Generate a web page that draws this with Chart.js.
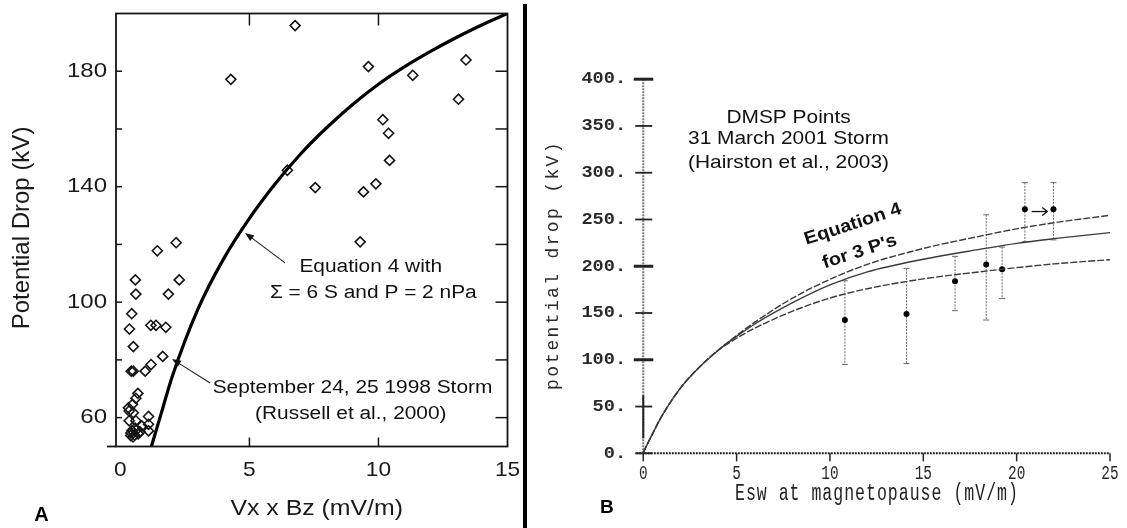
<!DOCTYPE html>
<html>
<head>
<meta charset="utf-8">
<script src="https://cdn.jsdelivr.net/npm/chart.js@4.4.1/dist/chart.umd.min.js"></script>
<style>
  html, body { margin: 0; padding: 0; background: #fff; }
  #wrap { position: relative; width: 1127px; height: 528px; overflow: hidden; }
  canvas { position: absolute; top: 0; }
  #chartA { left: 0; }
  #chartB { left: 527px; }
  #divider { position: absolute; left: 523px; top: 4px; width: 4px; height: 524px; background: #000; }
</style>
</head>
<body>
<div id="wrap">
  <canvas id="chartA" width="523" height="528"></canvas>
  <div id="divider"></div>
  <canvas id="chartB" width="600" height="528"></canvas>
</div>
<script>
// ---- Panel A: Russell et al. 2000 storm points + Equation 4 curve ----
const curveAx = [1.2, 1.6, 2, 3, 4, 5, 6, 7, 8, 9, 10, 11, 12, 13, 14, 15];
const curveAy = [50, 62, 74, 97.5, 115, 129, 141, 151.5, 160.5, 168.5, 175.5, 181.5, 186.8, 191.6, 196, 200];

const stormAx = [6.77, 4.28, 9.61, 11.33, 13.39, 13.10, 10.17, 10.39, 10.43, 9.90, 9.42, 7.55, 6.47, 9.29,
  2.16, 1.43, 2.28, 0.58, 0.60, 1.86, 0.44, 0.35, 1.18, 1.38,
  1.76, 0.50, 1.64, 1.19, 0.96, 0.42, 0.50, 0.68, 0.60, 0.47,
  0.34, 0.31, 0.50, 1.09, 1.09, 1.09, 0.83, 0.57, 0.41, 0.69,
  0.49, 0.34, 0.60, 0.76, 0.45, 0.55, 0.62, 0.40];
const stormAy = [195.8, 177.2, 181.6, 178.6, 183.9, 170.3, 163.2, 158.5, 149.1, 141.0, 138.2, 139.7, 145.7, 120.9,
  120.6, 117.8, 107.7, 107.7, 102.8, 102.8, 96.0, 90.7, 92.0, 92.0,
  91.3, 84.6, 81.2, 78.4, 76.1, 76.1, 76.1, 68.4, 66.7, 64.6,
  62.3, 63.4, 61.7, 60.4, 57.7, 55.4, 57.1, 56.4, 54.7, 54.4,
  53.3, 58.9, 58.9, 55.1, 55.5, 54.0, 55.8, 53.8];

const labelsAx = [0, 5, 10, 15];
const labelsAy = [60, 100, 140, 180];
const marksAx = [5, 10];
const marksAy = [60, 80, 100, 120, 140, 160, 180];

// ---- Panel B: DMSP points (Hairston et al. 2003) + Equation 4 for 3 P's ----
const eswX = [0, 0.5, 1, 2, 3, 4, 5, 6, 8, 10, 12, 15, 18, 20, 22, 25];
const dropUpper = [1, 21, 40, 70, 92, 110, 126, 140.5, 166, 186, 202, 219, 232, 240, 246.5, 254.5];
const dropMid = [1, 21, 40, 70, 92, 110, 125, 138.5, 161, 180, 194, 207.5, 218, 224.5, 229.5, 236];
const dropLower = [1, 21, 40, 70, 92, 110, 123, 134, 152, 166, 176, 186.5, 194, 198.5, 202.5, 207];

const dmspX = [10.8, 14.1, 16.7, 18.37, 19.22, 20.44, 21.97];
const dmspY = [142.5, 149, 184, 202, 196.7, 261, 261];
const dmspLow = [95, 96, 152.5, 142.5, 165.5, 226.3, 228.2];
const dmspHigh = [184.5, 197.7, 210.6, 255, 220.5, 289.4, 289.4];

const ticksBx = [0, 5, 10, 15, 20, 25];
const ticksBy = [0, 50, 100, 150, 200, 250, 300, 350, 400];
const majorBy = [100, 200, 400];

const SANS = '"Liberation Sans", Arial, sans-serif';
const MONO = '"Liberation Mono", "DejaVu Sans Mono", monospace';

function line(ctx, x1, y1, x2, y2) {
    ctx.beginPath();
    ctx.moveTo(x1, y1);
    ctx.lineTo(x2, y2);
    ctx.stroke();
}

function txt(ctx, s, x, y, o) {
    ctx.save();
    ctx.translate(x, y);
    if (o.rot) ctx.rotate(o.rot);
    ctx.scale(o.sx || 1, 1);
    ctx.font = o.font;
    ctx.fillStyle = o.color || '#111';
    ctx.textAlign = o.align || 'center';
    ctx.textBaseline = o.base || 'middle';
    ctx.fillText(s, 0, 0);
    ctx.restore();
}

// monospace text with wide letter spacing, char by char
function spaced(ctx, s, cx, cy, step, o) {
    ctx.save();
    ctx.translate(cx, cy);
    if (o.rot) ctx.rotate(o.rot);
    ctx.font = o.font;
    ctx.fillStyle = o.color || '#222';
    ctx.textAlign = 'center';
    ctx.textBaseline = 'middle';
    const n = s.length;
    for (let i = 0; i < n; i++) {
        ctx.save();
        ctx.translate((i - (n - 1) / 2) * step, 0);
        ctx.scale(o.sx || 1, 1);
        ctx.fillText(s[i], 0, 0);
        ctx.restore();
    }
    ctx.restore();
}

function arrowFilled(ctx, x1, y1, x2, y2, len, half) {
    const ang = Math.atan2(y2 - y1, x2 - x1);
    line(ctx, x1, y1, x2 - Math.cos(ang) * len * 0.7, y2 - Math.sin(ang) * len * 0.7);
    ctx.beginPath();
    ctx.moveTo(x2, y2);
    ctx.lineTo(x2 - Math.cos(ang) * len + Math.sin(ang) * half, y2 - Math.sin(ang) * len - Math.cos(ang) * half);
    ctx.lineTo(x2 - Math.cos(ang) * len - Math.sin(ang) * half, y2 - Math.sin(ang) * len + Math.cos(ang) * half);
    ctx.closePath();
    ctx.fill();
}

function baseOptions(pad, xr, yr) {
    return {
        responsive: false,
        animation: false,
        devicePixelRatio: 1,
        events: [],
        layout: { padding: pad },
        plugins: { legend: { display: false }, tooltip: { enabled: false } },
        scales: {
            x: { type: 'linear', min: xr[0], max: xr[1], display: false },
            y: { type: 'linear', min: yr[0], max: yr[1], display: false }
        }
    };
}

// Panel A frame, inward ticks, labels and notes
const panelA = {
    id: 'panelA',
    afterDraw(chart) {
        const { ctx, chartArea: a, scales: { x, y } } = chart;
        ctx.save();
        ctx.strokeStyle = '#151515';
        ctx.lineWidth = 1.8;
        ctx.strokeRect(a.left, a.top, a.right - a.left, a.bottom - a.top);
        line(ctx, a.left - 9, a.bottom, a.left, a.bottom);
        ctx.lineWidth = 1.5;
        marksAy.forEach(v => {
            const py = y.getPixelForValue(v);
            line(ctx, a.left, py, a.left + 6, py);
            line(ctx, a.right - 12, py, a.right, py);
        });
        marksAx.forEach(v => {
            const px = x.getPixelForValue(v);
            line(ctx, px, a.top, px, a.top + 12);
            line(ctx, px, a.bottom - 9, px, a.bottom);
        });

        labelsAy.forEach(v => txt(ctx, String(v), 107, y.getPixelForValue(v),
            { font: '20px ' + SANS, sx: 1.2, align: 'right', color: '#1a1a1a' }));
        labelsAx.forEach(v => txt(ctx, String(v), x.getPixelForValue(v), 470,
            { font: '21px ' + SANS, sx: 1.08, color: '#1a1a1a' }));
        txt(ctx, 'Vx x Bz (mV/m)', 316.7, 509, { font: '22px ' + SANS, sx: 1.13, color: '#1a1a1a' });
        txt(ctx, 'Potential Drop (kV)', 22.5, 228, { font: '24px ' + SANS, rot: -Math.PI / 2, color: '#1a1a1a' });
        txt(ctx, 'A', 41.5, 515, { font: 'bold 20px ' + SANS, color: '#000' });

        const note = { font: '18px ' + SANS, sx: 1.16, base: 'alphabetic', color: '#111' };
        txt(ctx, 'Equation 4 with', 370.8, 271.7, note);
        txt(ctx, '\u03A3 = 6 S and P = 2 nPa', 373.3, 298.3, note);
        txt(ctx, 'September 24, 25 1998 Storm', 352.5, 393.3, note);
        txt(ctx, '(Russell et al., 2000)', 350.8, 419, note);

        ctx.strokeStyle = '#222';
        ctx.fillStyle = '#111';
        ctx.lineWidth = 1.1;
        arrowFilled(ctx, x.getPixelForValue(6.38), y.getPixelForValue(113.6),
            x.getPixelForValue(4.83), y.getPixelForValue(124.0), 9, 3.5);
        arrowFilled(ctx, x.getPixelForValue(3.48), y.getPixelForValue(72.0),
            x.getPixelForValue(2.0), y.getPixelForValue(80.3), 9, 3.5);
        ctx.restore();
    }
};

// Panel B axes, error bars, labels and notes
const panelB = {
    id: 'panelB',
    beforeDatasetsDraw(chart) {
        const { ctx, scales: { x, y } } = chart;
        const x0 = x.getPixelForValue(0);
        const y0 = y.getPixelForValue(0);
        ctx.save();
        // y axis: dotted grey
        ctx.strokeStyle = '#7a7a7a';
        ctx.lineWidth = 2;
        ctx.setLineDash([2, 1]);
        line(ctx, x0, y0, x0, y.getPixelForValue(400));
        // x axis: dark dotted
        ctx.strokeStyle = '#222';
        line(ctx, x.getPixelForValue(-0.4), y0, x.getPixelForValue(25), y0);
        ctx.setLineDash([]);
        ctx.lineWidth = 2;
        line(ctx, x0, y.getPixelForValue(16), x0, y.getPixelForValue(62));
        // y ticks crossing the axis
        ticksBy.forEach(v => {
            const py = y.getPixelForValue(v);
            const major = majorBy.includes(v);
            ctx.lineWidth = major ? 3 : 1.8;
            line(ctx, x0 - (major ? 9.5 : 8), py, x0 + (major ? 10 : 9), py);
        });
        ctx.lineWidth = 1.5;
        ticksBx.forEach(v => {
            const px = x.getPixelForValue(v);
            line(ctx, px, y0, px, y0 + 8);
        });
        // error bars
        ctx.strokeStyle = '#6a6a6a';
        ctx.lineWidth = 1;
        dmspX.forEach((v, i) => {
            const px = x.getPixelForValue(v);
            const top = y.getPixelForValue(dmspHigh[i]);
            const bot = y.getPixelForValue(dmspLow[i]);
            ctx.setLineDash([2, 1.2]);
            line(ctx, px, top, px, bot);
            ctx.setLineDash([]);
            line(ctx, px - 3, top, px + 3, top);
            line(ctx, px - 3, bot, px + 3, bot);
        });
        ctx.restore();
    },
    afterDraw(chart) {
        const { ctx, scales: { x, y } } = chart;
        const x0 = x.getPixelForValue(0);
        const y0 = y.getPixelForValue(0);
        ctx.save();
        ticksBy.forEach(v => txt(ctx, v + '.', x0 - 17, y.getPixelForValue(v),
            { font: 'bold 17px ' + MONO, sx: 1.1, align: 'right', color: '#2a2a2a' }));
        ticksBx.forEach(v => txt(ctx, String(v), x.getPixelForValue(v), y0 + 20,
            { font: '20px ' + MONO, sx: 0.72, color: '#2a2a2a' }));
        spaced(ctx, 'Esw at magnetopause (mV/m)', x.getPixelForValue(12.49), y0 + 40.7, 10.92,
            { font: '23px ' + MONO, sx: 0.72, color: '#222' });
        spaced(ctx, 'potential drop (kV)', x0 - 90.3, y.getPixelForValue(200), 13.15,
            { font: '18px ' + MONO, rot: -Math.PI / 2, color: '#2a2a2a' });
        txt(ctx, 'B', x.getPixelForValue(-1.95), y0 + 54.2, { font: 'bold 19px ' + SANS, color: '#000' });

        const note = { font: '19px ' + SANS, sx: 1.1, color: '#111' };
        txt(ctx, 'DMSP Points', x.getPixelForValue(7.78), y.getPixelForValue(359), note);
        txt(ctx, '31 March 2001 Storm', x.getPixelForValue(7.78), y.getPixelForValue(336), note);
        txt(ctx, '(Hairston et al., 2003)', x.getPixelForValue(7.78), y.getPixelForValue(310.4), note);
        const rot = -18 * Math.PI / 180;
        txt(ctx, 'Equation 4', x.getPixelForValue(11.23), y.getPixelForValue(244.8),
            { font: 'bold 18px ' + SANS, sx: 1.1, rot: rot, color: '#111' });
        txt(ctx, "for 3 P's", x.getPixelForValue(11.59), y.getPixelForValue(215.4),
            { font: 'bold 18px ' + SANS, sx: 1.1, rot: rot, color: '#111' });

        // shift arrow between the last two points
        const ax1 = x.getPixelForValue(20.8), ax2 = x.getPixelForValue(21.64), ay = y.getPixelForValue(258.5);
        ctx.strokeStyle = '#111';
        ctx.lineWidth = 1.3;
        line(ctx, ax1, ay, ax2, ay);
        ctx.beginPath();
        ctx.moveTo(ax2 - 5, ay - 4);
        ctx.lineTo(ax2, ay);
        ctx.lineTo(ax2 - 5, ay + 4);
        ctx.stroke();
        ctx.restore();
    }
};

// Chart A
new Chart(document.getElementById('chartA'), {
    type: 'scatter',
    data: {
        datasets: [{
            type: 'line',
            data: curveAx.map((v, i) => ({ x: v, y: curveAy[i] })),
            borderColor: '#000',
            borderWidth: 3.2,
            pointRadius: 0,
            cubicInterpolationMode: 'monotone',
            fill: false
        }, {
            data: stormAx.map((v, i) => ({ x: v, y: stormAy[i] })),
            pointStyle: 'rectRot',
            pointRadius: 5,
            borderColor: '#151515',
            borderWidth: 1.6,
            backgroundColor: 'rgba(255,255,255,0)'
        }]
    },
    options: baseOptions({ left: 116, top: 13.5, right: 15.5, bottom: 81.5 }, [-0.17, 15], [50, 200]),
    plugins: [panelA]
});

// Chart B
const curveStyle = (vals, dash) => ({
    type: 'line',
    data: eswX.map((v, i) => ({ x: v, y: vals[i] })),
    borderColor: '#3a3a3a',
    borderWidth: 1.4,
    borderDash: dash,
    pointRadius: 0,
    cubicInterpolationMode: 'monotone',
    fill: false
});

new Chart(document.getElementById('chartB'), {
    type: 'scatter',
    data: {
        datasets: [
            curveStyle(dropUpper, [7, 2]),
            curveStyle(dropMid, []),
            curveStyle(dropLower, [7, 2]),
            {
                data: dmspX.map((v, i) => ({ x: v, y: dmspY[i] })),
                pointStyle: 'circle',
                pointRadius: 3,
                backgroundColor: '#000',
                borderColor: '#000',
                borderWidth: 0
            }
        ]
    },
    options: baseOptions({ left: 108.8, top: 79.2, right: 17, bottom: 74.7 }, [-0.4, 25], [0, 400]),
    plugins: [panelB]
});
</script>
</body>
</html>
